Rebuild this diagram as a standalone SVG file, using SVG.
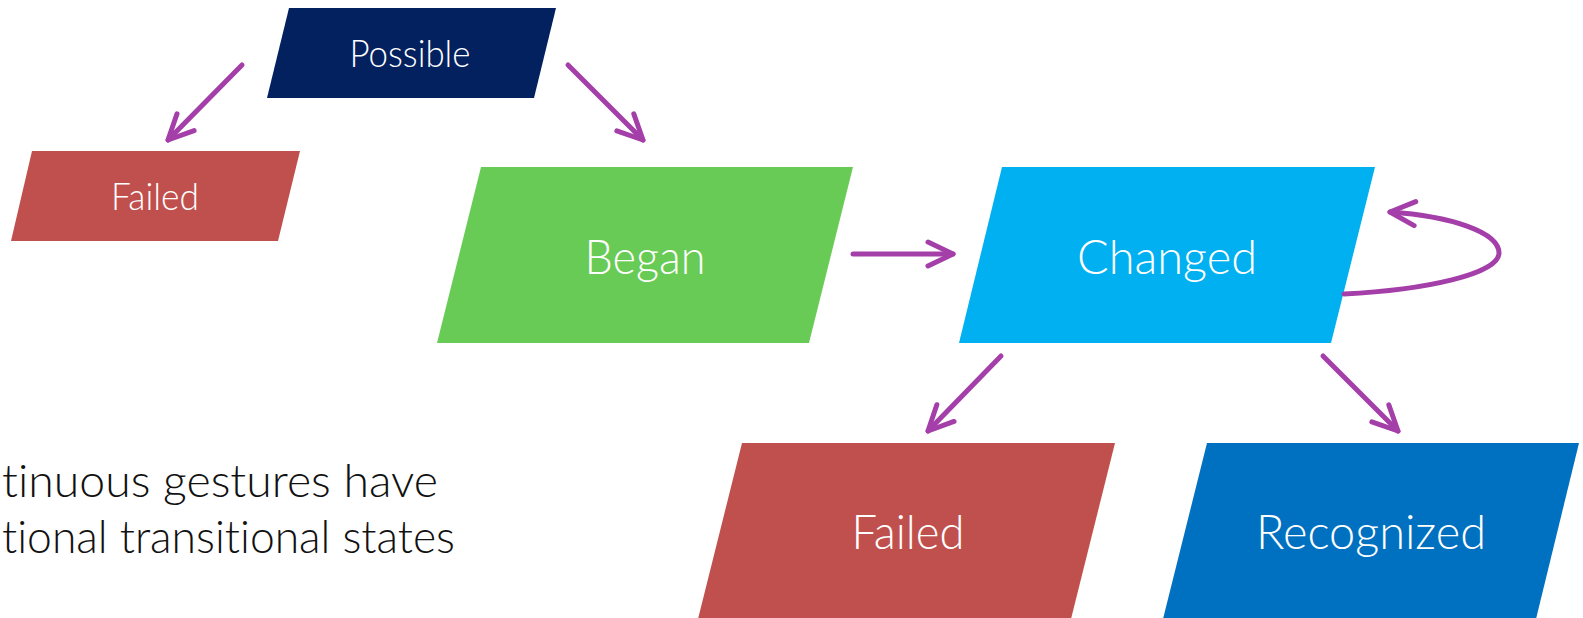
<svg xmlns="http://www.w3.org/2000/svg" width="1583" height="618" viewBox="0 0 1583 618">
  <style>
    text { font-variant-ligatures: none; }
    .label { font-family: Lato, "Open Sans", "Liberation Sans", sans-serif; font-weight: 300; fill: #ffffff; text-anchor: middle; }
    .small { font-size: 37px; }
    .big { font-size: 48px; }
    .note { font-family: Lato, "Open Sans", "Liberation Sans", sans-serif; font-weight: 300; font-size: 45px; fill: #111111; }
    .edge { fill: none; stroke: #A43FA9; stroke-width: 5; stroke-linecap: round; stroke-linejoin: round; marker-end: url(#chev); }
  </style>
  <defs>
    <marker id="chev" markerUnits="userSpaceOnUse" viewBox="-32 -16 36 32" refX="0" refY="0" markerWidth="36" markerHeight="32" orient="auto" overflow="visible">
      <path d="M-25,-12 L0,0 L-25,12" fill="none" stroke="#A43FA9" stroke-width="5" stroke-linecap="round" stroke-linejoin="round"/>
    </marker>
  </defs>

  <rect width="1583" height="618" fill="#ffffff"/>

  <!-- states -->
  <g id="possible">
    <polygon points="289,8 556,8 534,98 267,98" fill="#03215F"/>
    <text class="label small" x="410" y="67" textLength="121" lengthAdjust="spacingAndGlyphs">Possible</text>
  </g>
  <g id="failed-early">
    <polygon points="32,151 300,151 278,241 11,241" fill="#C0504D"/>
    <text class="label small" x="155" y="210" textLength="88" lengthAdjust="spacingAndGlyphs">Failed</text>
  </g>
  <g id="began">
    <polygon points="481,167 853,167 809,343 437,343" fill="#68CB55"/>
    <text class="label big" x="645" y="274" textLength="121" lengthAdjust="spacingAndGlyphs">Began</text>
  </g>
  <g id="changed">
    <polygon points="1002,167 1375,167 1331,343 959,343" fill="#00B0F0"/>
    <text class="label big" x="1167" y="274" textLength="180" lengthAdjust="spacingAndGlyphs">Changed</text>
  </g>
  <g id="failed">
    <polygon points="742,443 1115,443 1071,619 698,619" fill="#C0504D"/>
    <text class="label big" x="908" y="549" textLength="113" lengthAdjust="spacingAndGlyphs">Failed</text>
  </g>
  <g id="recognized">
    <polygon points="1207,443 1579,443 1536,619 1163,619" fill="#0070C0"/>
    <text class="label big" x="1371" y="549" textLength="230" lengthAdjust="spacingAndGlyphs">Recognized</text>
  </g>

  <!-- transitions -->
  <g id="connectors">
    <line class="edge" x1="242" y1="65" x2="168" y2="140"/>
    <line class="edge" x1="568" y1="65" x2="643" y2="140"/>
    <line class="edge" x1="853" y1="254" x2="953" y2="254"/>
    <path class="edge" d="M1344,294 C1425,290 1499,274 1499,253 C1499,232 1450,216 1390,212"/>
    <line class="edge" x1="1001" y1="356" x2="928" y2="431"/>
    <line class="edge" x1="1323" y1="356" x2="1398" y2="431"/>
  </g>

  <!-- caption -->
  <g id="caption">
    <text class="note" x="2" y="497" textLength="436" lengthAdjust="spacingAndGlyphs">tinuous gestures have</text>
    <text class="note" x="2" y="553" textLength="453" lengthAdjust="spacingAndGlyphs">tional transitional states</text>
  </g>
</svg>
